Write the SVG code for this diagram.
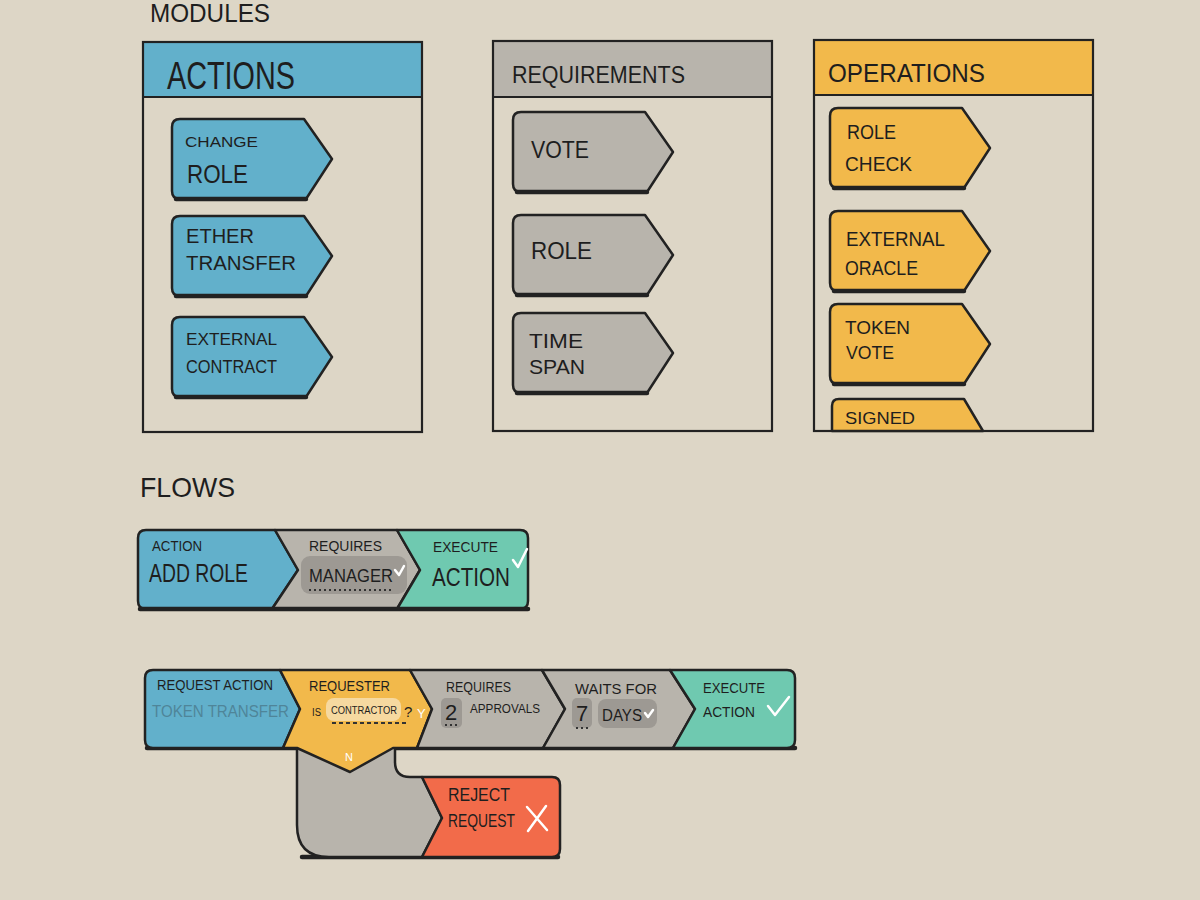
<svg xmlns="http://www.w3.org/2000/svg" width="1200" height="900" viewBox="0 0 1200 900">
<defs>
<style>
.ln{stroke:#222;stroke-width:2.5;stroke-linejoin:round;stroke-linecap:round}
.thick{fill:none;stroke:#222;stroke-width:4.5;stroke-linecap:round}
.blue{fill:#62b0cb}
.gray{fill:#b8b4ac}
.dgray{fill:#9d9993}
.yellow{fill:#f2b94b}
.teal{fill:#6fc9b0}
.red{fill:#f26b4a}
.panel{fill:none;stroke:#222;stroke-width:2.2}
text{font-family:"Liberation Sans","DejaVu Sans",sans-serif;fill:#1e1e1e;font-weight:300}
.wchk{fill:none;stroke:#fff;stroke-width:2.5;stroke-linecap:round;stroke-linejoin:round}
</style>
<path id="tag" d="M8,0 H132 L160,40 L134,80 H8 Q0,80 0,72 V8 Q0,0 8,0 Z"/>
</defs>
<rect width="1200" height="900" fill="#ddd6c6"/>

<text x="150" y="22" font-size="26" textLength="120" lengthAdjust="spacingAndGlyphs">MODULES</text>
<text x="140" y="497" font-size="28" textLength="95" lengthAdjust="spacingAndGlyphs">FLOWS</text>

<!-- Actions panel -->
<g id="panel-actions">
<rect x="143" y="42" width="279" height="55" class="blue"/>
<rect x="143" y="42" width="279" height="390" class="panel"/>
<line x1="143" y1="97" x2="422" y2="97" class="panel"/>
<text x="167" y="89" font-size="38" textLength="128" lengthAdjust="spacingAndGlyphs">ACTIONS</text>
</g>
<g id="action-change-role" transform="translate(172,119)">
<use href="#tag" class="blue ln"/><path d="M4,80 H134" class="thick"/>
<text x="13" y="28" font-size="15" textLength="73" lengthAdjust="spacingAndGlyphs">CHANGE</text><text x="15" y="64" font-size="26" textLength="61" lengthAdjust="spacingAndGlyphs">ROLE</text>
</g>
<g id="action-ether-transfer" transform="translate(172,216)">
<use href="#tag" class="blue ln"/><path d="M4,80 H134" class="thick"/>
<text x="14" y="27" font-size="20" textLength="68" lengthAdjust="spacingAndGlyphs">ETHER</text><text x="14" y="54" font-size="21" textLength="110" lengthAdjust="spacingAndGlyphs">TRANSFER</text>
</g>
<g id="action-external-contract" transform="translate(172,317)">
<use href="#tag" class="blue ln"/><path d="M4,80 H134" class="thick"/>
<text x="14" y="28" font-size="17" textLength="91" lengthAdjust="spacingAndGlyphs">EXTERNAL</text><text x="14" y="56" font-size="19" textLength="91" lengthAdjust="spacingAndGlyphs">CONTRACT</text>
</g>

<!-- Requirements panel -->
<g id="panel-requirements">
<rect x="493" y="41" width="279" height="56" class="gray"/>
<rect x="493" y="41" width="279" height="390" class="panel"/>
<line x1="493" y1="97" x2="772" y2="97" class="panel"/>
<text x="512" y="83" font-size="24" textLength="173" lengthAdjust="spacingAndGlyphs">REQUIREMENTS</text>
</g>
<g id="req-vote" transform="translate(513,112)">
<use href="#tag" class="gray ln"/><path d="M4,80 H134" class="thick"/>
<text x="18" y="46" font-size="24" textLength="58" lengthAdjust="spacingAndGlyphs">VOTE</text>
</g>
<g id="req-role" transform="translate(513,215)">
<use href="#tag" class="gray ln"/><path d="M4,80 H134" class="thick"/>
<text x="18" y="44" font-size="24" textLength="61" lengthAdjust="spacingAndGlyphs">ROLE</text>
</g>
<g id="req-time-span" transform="translate(513,313)">
<use href="#tag" class="gray ln"/><path d="M4,80 H134" class="thick"/>
<text x="16" y="35" font-size="21" textLength="54" lengthAdjust="spacingAndGlyphs">TIME</text><text x="16" y="61" font-size="21" textLength="56" lengthAdjust="spacingAndGlyphs">SPAN</text>
</g>

<!-- Operations panel -->
<g id="panel-operations">
<rect x="814" y="40" width="279" height="55" class="yellow"/>
<rect x="814" y="40" width="279" height="391" class="panel"/>
<line x1="814" y1="95" x2="1093" y2="95" class="panel"/>
<text x="828" y="82" font-size="26" textLength="157" lengthAdjust="spacingAndGlyphs">OPERATIONS</text>
</g>
<g id="op-role-check" transform="translate(830,108)">
<use href="#tag" class="yellow ln"/><path d="M4,80 H134" class="thick"/>
<text x="17" y="31" font-size="21" textLength="49" lengthAdjust="spacingAndGlyphs">ROLE</text><text x="15" y="63" font-size="21" textLength="67" lengthAdjust="spacingAndGlyphs">CHECK</text>
</g>
<g id="op-external-oracle" transform="translate(830,211)">
<use href="#tag" class="yellow ln"/><path d="M4,80 H134" class="thick"/>
<text x="16" y="35" font-size="20" textLength="99" lengthAdjust="spacingAndGlyphs">EXTERNAL</text><text x="15" y="64" font-size="20" textLength="73" lengthAdjust="spacingAndGlyphs">ORACLE</text>
</g>
<g id="op-token-vote" transform="translate(830,304)">
<use href="#tag" class="yellow ln"/><path d="M4,80 H134" class="thick"/>
<text x="15" y="30" font-size="19" textLength="65" lengthAdjust="spacingAndGlyphs">TOKEN</text><text x="16" y="55" font-size="19" textLength="48" lengthAdjust="spacingAndGlyphs">VOTE</text>
</g>
<g id="op-signed">
<path d="M832,431 V406 Q832,399 839,399 H964 L983,431 Z" class="yellow ln"/>
<line x1="814" y1="431" x2="1093" y2="431" class="panel"/>
<text x="845" y="424" font-size="17" textLength="70" lengthAdjust="spacingAndGlyphs">SIGNED</text>
</g>

<!-- Flow 1 -->
<g id="flow1-action">
<path d="M146,530 H275 L298,570 L272,609 H146 Q138,609 138,601 V538 Q138,530 146,530 Z" class="blue ln"/>
<text x="152" y="551" font-size="14" textLength="50" lengthAdjust="spacingAndGlyphs">ACTION</text>
<text x="149" y="582" font-size="25" textLength="99" lengthAdjust="spacingAndGlyphs">ADD ROLE</text>
</g>
<g id="flow1-requires">
<path d="M275,530 H397 L420,570 L397,609 H272 L298,570 Z" class="gray ln"/>
<text x="309" y="551" font-size="14" textLength="73" lengthAdjust="spacingAndGlyphs">REQUIRES</text>
<rect x="301" y="556" width="106" height="38" rx="9" class="dgray"/>
<text x="309" y="582" font-size="19" textLength="84" lengthAdjust="spacingAndGlyphs">MANAGER</text>
<path d="M395,570 L399,575 L404,566" class="wchk" stroke-width="2"/>
<line x1="309" y1="590" x2="392" y2="590" stroke="#333" stroke-width="1.8" stroke-dasharray="2 3"/>
</g>
<g id="flow1-execute">
<path d="M397,530 H520 Q528,530 528,538 V601 Q528,609 520,609 H397 L420,570 Z" class="teal ln"/>
<text x="433" y="552" font-size="14" textLength="65" lengthAdjust="spacingAndGlyphs">EXECUTE</text>
<text x="432" y="586" font-size="25" textLength="78" lengthAdjust="spacingAndGlyphs">ACTION</text>
<path d="M513,560 L518,567 L527,549" class="wchk"/>
</g>
<g id="connectors">
<path d="M140,609 H528" class="thick"/>
<path d="M147,748 H795" class="thick"/>
<path d="M302,857 H558" class="thick"/>
</g>

<!-- Flow 2 -->
<g id="flow2-reject-branch">
<path d="M297,745 V825 Q297,857 329,857 H422 L442,818 L422,777 H410 Q395,777 395,762 V745 Z" class="gray ln"/>
</g>
<g id="flow2-reject">
<path d="M422,777 H552 Q560,777 560,785 V849 Q560,857 552,857 H422 L442,818 Z" class="red ln"/>
<text x="448" y="801" font-size="18" textLength="62" lengthAdjust="spacingAndGlyphs">REJECT</text>
<text x="448" y="827" font-size="18" textLength="67" lengthAdjust="spacingAndGlyphs">REQUEST</text>
<path d="M527,807 L547,830 M546,806 L528,831" class="wchk" stroke-width="3"/>
</g>
<g id="flow2-request-action">
<path d="M153,670 H280 L300,709 L283,748 H153 Q145,748 145,740 V678 Q145,670 153,670 Z" class="blue ln"/>
<text x="157" y="690" font-size="14" textLength="116" lengthAdjust="spacingAndGlyphs">REQUEST ACTION</text>
<text x="152" y="717" font-size="16" textLength="137" lengthAdjust="spacingAndGlyphs" style="fill:#4f8599">TOKEN TRANSFER</text>
</g>
<g id="flow2-requester">
<path d="M280,670 H410 L432,709 L417,748 H393 L350,772 L297,748 H283 L300,709 Z" class="yellow ln"/>
<text x="309" y="691" font-size="14" textLength="81" lengthAdjust="spacingAndGlyphs">REQUESTER</text>
<text x="312" y="716" font-size="10" textLength="9" lengthAdjust="spacingAndGlyphs">IS</text>
<rect x="326" y="698" width="75" height="23" rx="8" fill="#f6d9a0"/>
<text x="331" y="714" font-size="10" font-weight="bold" textLength="66" lengthAdjust="spacingAndGlyphs">CONTRACTOR</text>
<text x="404" y="717" font-size="15">?</text>
<line x1="332" y1="723" x2="408" y2="723" stroke="#333" stroke-width="1.8" stroke-dasharray="4 3"/>
<text x="417" y="718" font-size="13" font-weight="bold" style="fill:#fff">Y</text>
<text x="345" y="761" font-size="11" font-weight="bold" style="fill:#fff">N</text>
</g>
<g id="flow2-approvals">
<path d="M410,670 H542 L565,709 L543,748 H417 L432,709 Z" class="gray ln"/>
<text x="446" y="692" font-size="14" textLength="65" lengthAdjust="spacingAndGlyphs">REQUIRES</text>
<rect x="441" y="698" width="21" height="30" rx="5" class="dgray"/>
<text x="445" y="720" font-size="22">2</text>
<text x="470" y="713" font-size="13" textLength="70" lengthAdjust="spacingAndGlyphs">APPROVALS</text>
<line x1="445" y1="725" x2="458" y2="725" stroke="#333" stroke-width="2" stroke-dasharray="2 3"/>
</g>
<g id="flow2-wait">
<path d="M542,670 H670 L695,709 L673,748 H543 L565,709 Z" class="gray ln"/>
<text x="575" y="694" font-size="14" textLength="82" lengthAdjust="spacingAndGlyphs">WAITS FOR</text>
<rect x="572" y="698" width="20" height="30" rx="5" class="dgray"/>
<text x="576" y="721" font-size="22">7</text>
<line x1="576" y1="728" x2="588" y2="728" stroke="#333" stroke-width="2" stroke-dasharray="2 3"/>
<rect x="598" y="699" width="59" height="29" rx="8" class="dgray"/>
<text x="602" y="721" font-size="16" textLength="40" lengthAdjust="spacingAndGlyphs">DAYS</text>
<path d="M645,713 L648,717 L653,710" class="wchk" stroke-width="2"/>
</g>
<g id="flow2-execute">
<path d="M670,670 H787 Q795,670 795,678 V740 Q795,748 787,748 H673 L695,709 Z" class="teal ln"/>
<text x="703" y="693" font-size="14" textLength="62" lengthAdjust="spacingAndGlyphs">EXECUTE</text>
<text x="703" y="717" font-size="14" textLength="52" lengthAdjust="spacingAndGlyphs">ACTION</text>
<path d="M768,706 L775,715 L789,697" class="wchk" stroke-width="3"/>
</g>
</svg>
